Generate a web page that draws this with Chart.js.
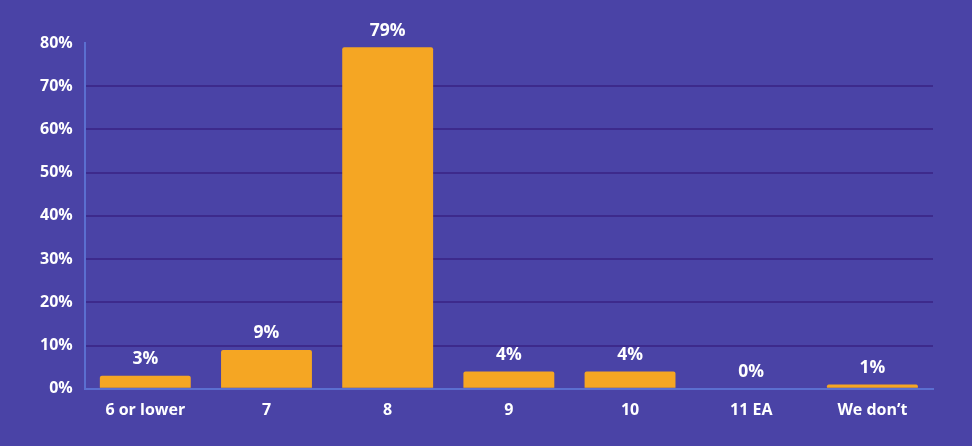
<!DOCTYPE html>
<html>
<head>
<meta charset="utf-8">
<script src="https://cdn.jsdelivr.net/npm/chart.js@4/dist/chart.umd.min.js"></script>
<style>
  html, body { margin: 0; padding: 0; background: #4a43a6; }
  #wrap { width: 972px; height: 446px; }
</style>
</head>
<body>
<div id="wrap"><canvas id="grafico" width="972" height="446"></canvas></div>
<script>
// datos del grafico
var categorias = ['6 or lower', '7', '8', '9', '10', '11 EA', 'We don\u2019t'];
var porcentajes = [3, 9, 79, 4, 4, 0, 1];
var ticksY = [0, 10, 20, 30, 40, 50, 60, 70, 80];

var fuente = "'Open Sans', 'DejaVu Sans', sans-serif";

// etiquetas encima de las barras
var etiquetasBarras = {
    id: 'etiquetasBarras',
    afterDatasetsDraw: function (chart) {
        var ctx = chart.ctx;
        var meta = chart.getDatasetMeta(0);
        ctx.save();
        ctx.fillStyle = '#ffffff';
        ctx.font = 'bold 17.5px ' + fuente;
        ctx.textAlign = 'center';
        ctx.textBaseline = 'bottom';
        meta.data.forEach(function (bar, i) {
            ctx.fillText(porcentajes[i] + '%', bar.x, bar.y - 8);
        });
        ctx.restore();
    }
};

var ctx = document.getElementById('grafico').getContext('2d');
var chartRespuestas = new Chart(ctx, {
    type: 'bar',
    data: {
        labels: categorias,
        datasets: [{
            data: porcentajes,
            backgroundColor: '#f5a623',
            borderRadius: { topLeft: 2, topRight: 2 },
            borderSkipped: 'bottom',
            categoryPercentage: 0.75,
            barPercentage: 1
        }]
    },
    options: {
        responsive: false,
        animation: false,
        layout: { padding: { top: 43, right: 39, left: 28, bottom: 14 } },
        plugins: {
            legend: { display: false },
            tooltip: { enabled: false }
        },
        scales: {
            x: {
                grid: { display: false, drawTicks: false },
                border: { color: '#5b6fd0', width: 2 },
                ticks: {
                    color: '#ffffff',
                    padding: 12,
                    font: { family: fuente, size: 16, weight: 'bold' }
                }
            },
            y: {
                min: 0,
                max: 80,
                afterBuildTicks: function (axis) {
                    axis.ticks = ticksY.map(function (v) { return { value: v }; });
                },
                grid: {
                    drawTicks: false,
                    lineWidth: 2,
                    color: function (c) {
                        if (c.tick && (c.tick.value === 80 || c.tick.value === 0)) return 'rgba(0,0,0,0)';
                        return '#3d2a8c';
                    }
                },
                border: { color: '#5b6fd0', width: 2 },
                ticks: {
                    color: '#ffffff',
                    padding: 12,
                    font: { family: fuente, size: 16, weight: 'bold' },
                    callback: function (v) { return v + '%'; }
                }
            }
        }
    },
    plugins: [etiquetasBarras]
});
</script>
</body>
</html>
